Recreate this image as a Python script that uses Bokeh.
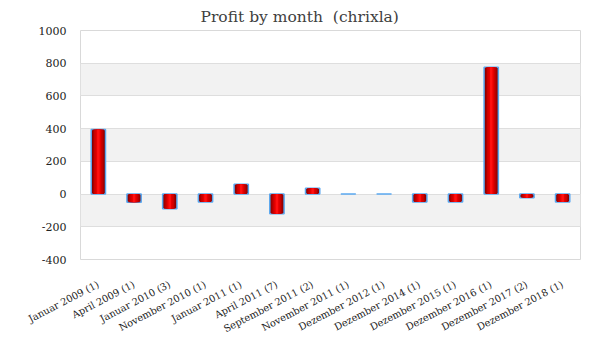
from bokeh.plotting import figure
from bokeh.models import Range1d, FactorRange, PrintfTickFormatter
from bokeh.embed import file_html
from bokeh.resources import INLINE

categories = ["Januar 2009 (1)", "April 2009 (1)", "Januar 2010 (3)", "November 2010 (1)",
              "Januar 2011 (1)", "April 2011 (7)", "September 2011 (2)", "November 2011 (1)",
              "Dezember 2012 (1)", "Dezember 2014 (1)", "Dezember 2015 (1)", "Dezember 2016 (1)",
              "Dezember 2017 (2)", "Dezember 2018 (1)"]
profits = [395, -50, -90, -48, 60, -120, 35, 1, 1, -49, -49, 776, -22, -49]
y_ticks = [-400, -200, 0, 200, 400, 600, 800, 1000]

p = figure(x_range=FactorRange(factors=categories), y_range=Range1d(-400, 1000),
           frame_width=500, frame_height=229, output_backend="svg", toolbar_location=None,
           min_border_left=80, min_border_right=4, min_border_top=4, min_border_bottom=5,
           title="Profit by month\u00a0\u00a0(chrixla)")
p.title.align = "left"
p.title.text_font = "DejaVu Serif"
p.title.text_font_size = "15.5px"
p.title.text_font_style = "normal"
p.title.text_color = "#404040"
p.title.offset = 120

bottom = [0] * len(profits)
# gradient-like bars: layered from dark edges to bright centre
layers = [(0.40, "#7a0000"), (0.32, "#a80000"), (0.24, "#cc0000"), (0.15, "#e60000"), (0.07, "#ff1010")]
for i, (w, c) in enumerate(layers):
    p.vbar(x=categories, top=profits, bottom=bottom, width=w, fill_color=c,
           line_color="#5aa8f0" if i == 0 else None, line_width=1.5)

p.outline_line_color = "#d9d9d9"
p.xgrid.grid_line_color = None
p.ygrid.grid_line_color = "#dedede"
p.ygrid.band_fill_color = "#f2f2f2"
p.ygrid.band_fill_alpha = 1.0
p.yaxis.ticker = y_ticks
p.yaxis.formatter = PrintfTickFormatter(format="%d")
p.yaxis.axis_line_color = None
p.yaxis.major_tick_line_color = None
p.yaxis.minor_tick_line_color = None
p.xaxis.axis_line_color = None
p.xaxis.major_tick_line_color = None
p.xaxis.major_label_orientation = 0.48
p.xaxis.major_label_standoff = 18
p.yaxis.major_label_standoff = 8
for ax in (p.xaxis[0], p.yaxis[0]):
    ax.major_label_text_font = "DejaVu Serif"
    ax.major_label_text_color = "#222222"
p.xaxis.major_label_text_font_size = "9.8px"
p.yaxis.major_label_text_font_size = "11px"

open("out.html", "w").write(file_html(p, INLINE))
